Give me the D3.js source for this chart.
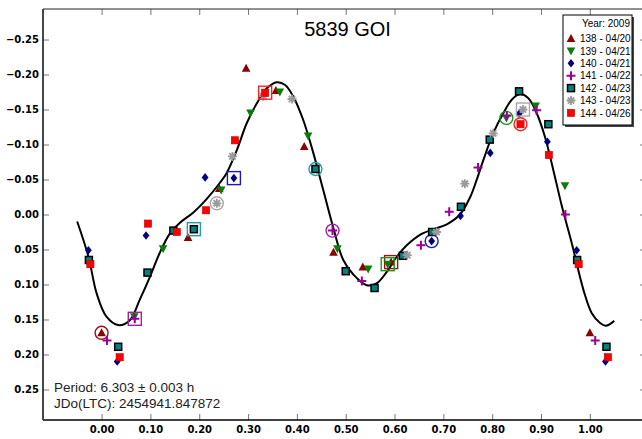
<!DOCTYPE html>
<html><head><meta charset="utf-8">
<script src="https://cdn.jsdelivr.net/npm/d3@7/dist/d3.min.js"></script>
<style>body{margin:0;background:#fff}svg{display:block}</style>
</head><body><div id="chart"></div>
<script>
// ---------- data ----------
const chartTitle = "5839 GOI";
const legendTitle = "Year: 2009";
const notes = ["Period: 6.303 \u00b1 0.003 h", "JDo(LTC): 2454941.847872"];
const xTicks = [0, 0.1, 0.2, 0.3, 0.4, 0.5, 0.6, 0.7, 0.8, 0.9, 1.0];
const yTicks = [-0.25, -0.2, -0.15, -0.1, -0.05, 0, 0.05, 0.1, 0.15, 0.2, 0.25];
const seriesNames = ["138 - 04/20", "139 - 04/21", "140 - 04/21", "141 - 04/22", "142 - 04/23", "143 - 04/23", "144 - 04/26"];

// [phase, magnitude]
const night138 = [[0.000,0.169],[0.177,0.033],[0.241,-0.037],[0.296,-0.209],[0.357,-0.177],[0.415,-0.097],[0.475,0.054],[0.535,0.075],[0.593,0.068]];
const night139 = [[0.067,0.146],[0.126,0.049],[0.245,-0.035],[0.305,-0.145],[0.365,-0.175],[0.423,-0.112],[0.483,0.049],[0.546,0.078],[0.586,0.071],[0.829,-0.138],[0.889,-0.155],[0.949,-0.041]];
const night140 = [[0.032,0.210],[0.091,0.030],[0.212,-0.053],[0.271,-0.052],[0.676,0.038],[0.735,0.002],[0.796,-0.088],[0.855,-0.144],[0.913,-0.104],[0.973,0.051]];
const night141 = [[0.011,0.180],[0.068,0.149],[0.473,0.023],[0.533,0.095],[0.654,0.044],[0.712,-0.004],[0.771,-0.067],[0.830,-0.141],[0.891,-0.149],[0.950,0.000]];
const night142 = [[0.034,0.189],[0.094,0.083],[0.147,0.023],[0.189,0.021],[0.438,-0.065],[0.500,0.081],[0.559,0.105],[0.617,0.059],[0.677,0.025],[0.736,-0.011],[0.795,-0.107],[0.855,-0.176],[0.915,-0.129],[0.974,0.065]];
const night143 = [[0.236,-0.016],[0.268,-0.083],[0.331,-0.169],[0.390,-0.165],[0.626,0.058],[0.686,0.025],[0.744,-0.044],[0.802,-0.116],[0.863,-0.150]];
const night144 = [[0.037,0.204],[0.095,0.013],[0.154,0.025],[0.214,-0.006],[0.273,-0.106],[0.335,-0.174],[0.858,-0.129],[0.916,-0.085],[0.977,0.071]];
// index of the circled and boxed point in each night
const circledIndex = [0, 9, 4, 2, 4, 0, 6];
const boxedIndex   = [8, 8, 3, 1, 3, 8, 5];

// Fourier fit curve [phase, magnitude]
const fitCurve = [[-0.050,0.010],[-0.027,0.060],[-0.010,0.113],[0.010,0.146],[0.034,0.158],[0.058,0.151],[0.078,0.122],[0.099,0.089],[0.119,0.055],[0.140,0.027],[0.160,0.012],[0.188,-0.003],[0.215,-0.022],[0.242,-0.045],[0.256,-0.059],[0.277,-0.092],[0.297,-0.130],[0.318,-0.159],[0.338,-0.180],[0.359,-0.189],[0.376,-0.185],[0.393,-0.168],[0.413,-0.135],[0.434,-0.087],[0.454,-0.035],[0.475,0.020],[0.495,0.065],[0.516,0.086],[0.543,0.101],[0.564,0.098],[0.584,0.082],[0.605,0.060],[0.625,0.044],[0.652,0.029],[0.680,0.021],[0.707,0.014],[0.734,0.000],[0.755,-0.025],[0.768,-0.049],[0.782,-0.078],[0.802,-0.116],[0.823,-0.145],[0.840,-0.164],[0.857,-0.172],[0.874,-0.166],[0.891,-0.145],[0.908,-0.111],[0.925,-0.064],[0.943,-0.011],[0.963,0.041],[0.987,0.108],[1.004,0.141],[1.021,0.155],[1.033,0.159],[1.050,0.152]];

const nights = [night138, night139, night140, night141, night142, night143, night144];

// ---------- styles ----------
const kinds  = ["triUp","triDown","diamond","plus","tealSq","star","redSq"];
const colors = ["#8b0000","#0a7d0a","#00007f","#990099","#008080","#9a9a9a","#ff0000"];
const ringColors = ["#a01010","#1a9a1a","#1a1ab0","#a020a0","#20a0a0","#a8a8a8","#ff2020"];
const W = 642, H = 439;
const plot = {left:43, right:646, top:9, bottom:420};

const svg = d3.select("#chart").append("svg").attr("width", W).attr("height", H)
  .style("font-family", "'Liberation Sans', Arial, sans-serif");

const x = d3.scaleLinear().domain([-0.12, 1.115]).range([plot.left, plot.right]);
const y = d3.scaleLinear().domain([-0.2936, 0.2936]).range([plot.top, plot.bottom]);

svg.append("defs").append("clipPath").attr("id","clip")
  .append("rect").attr("x",plot.left).attr("y",plot.top)
  .attr("width",plot.right-plot.left).attr("height",plot.bottom-plot.top);

// axes
const fmt = d3.format(".2f");
function styleAxis(g){
  g.select(".domain").remove();
  g.selectAll(".tick line").attr("stroke","#777").attr("stroke-width",1);
  g.selectAll(".tick text").attr("fill","#000")
   .style("font-family","'DejaVu Sans', Verdana, sans-serif")
   .style("font-weight","bold").style("font-size","10px");
}
svg.append("g").attr("transform",`translate(0,${plot.bottom})`)
  .call(d3.axisBottom(x).tickValues(xTicks).tickFormat(fmt).tickSizeInner(-6).tickSizeOuter(0).tickPadding(6))
  .call(styleAxis);
svg.append("g").attr("transform",`translate(${plot.left},0)`)
  .call(d3.axisLeft(y).tickValues(yTicks).tickFormat(fmt).tickSizeInner(-6).tickSizeOuter(0).tickPadding(4))
  .call(styleAxis);
svg.append("g").attr("transform",`translate(0,${plot.top})`)
  .call(d3.axisTop(x).tickValues(xTicks).tickFormat("").tickSizeInner(-6).tickSizeOuter(0))
  .call(styleAxis);
svg.append("g").attr("transform",`translate(${plot.right},0)`)
  .call(d3.axisRight(y).tickValues(yTicks).tickFormat("").tickSizeInner(-6).tickSizeOuter(0))
  .call(styleAxis);

// frame
svg.append("line").attr("x1",plot.left).attr("x2",plot.right).attr("y1",plot.top).attr("y2",plot.top)
  .attr("stroke","#222").attr("stroke-width",1);
svg.append("line").attr("x1",plot.left).attr("x2",plot.right).attr("y1",plot.bottom).attr("y2",plot.bottom)
  .attr("stroke","#000").attr("stroke-width",1.6);
svg.append("line").attr("x1",plot.left).attr("x2",plot.left).attr("y1",plot.top).attr("y2",plot.bottom)
  .attr("stroke","#333").attr("stroke-width",1.8);

// title
svg.append("text").attr("x", (x(-0.12)+x(1.115))/2 + 3).attr("y", 36)
  .attr("text-anchor","middle").style("font-size","20px").attr("fill","#000").text(chartTitle);

// fit curve
const line = d3.line().x(d=>x(d[0])).y(d=>y(d[1])).curve(d3.curveCatmullRom.alpha(0.5));
svg.append("path").datum(fitCurve).attr("d", line).attr("fill","none")
  .attr("stroke","#000").attr("stroke-width",2).attr("clip-path","url(#clip)");

// marker drawing
function drawMarker(g, kind, color){
  switch(kind){
    case "triUp": g.append("path").attr("d","M0,-4.5L4.3,3.5L-4.3,3.5Z").attr("fill",color); break;
    case "triDown": g.append("path").attr("d","M0,4.5L4.3,-3.5L-4.3,-3.5Z").attr("fill",color); break;
    case "diamond": g.append("path").attr("d","M0,-4.3L3.4,0L0,4.3L-3.4,0Z").attr("fill",color); break;
    case "plus":
      g.append("path").attr("d","M-4.5,0H4.5M0,-4.5V4.5").attr("stroke",color).attr("stroke-width",2).attr("fill","none"); break;
    case "tealSq":
      g.append("rect").attr("x",-3.5).attr("y",-3.5).attr("width",7).attr("height",7)
        .attr("fill",color).attr("stroke","#000").attr("stroke-width",1.5); break;
    case "star":
      g.append("path").attr("d","M-4.5,0H4.5M0,-4.5V4.5M-3.2,-3.2L3.2,3.2M-3.2,3.2L3.2,-3.2")
        .attr("stroke",color).attr("stroke-width",1.8).attr("fill","none"); break;
    case "redSq":
      g.append("rect").attr("x",-3.6).attr("y",-3.6).attr("width",7.2).attr("height",7.2)
        .attr("fill",color).attr("stroke","#c00000").attr("stroke-width",0.6); break;
  }
}

// points (with wrapped copies near phase 0 / 1)
const pts = svg.append("g");
nights.forEach((arr, si) => {
  arr.forEach((d, i) => {
    const phases = [d[0]];
    if (d[0] < 0.04) phases.push(d[0] + 1);
    if (d[0] > 0.96) phases.push(d[0] - 1);
    phases.forEach((ph, k) => {
      const g = pts.append("g").attr("transform",`translate(${x(ph)},${y(d[1])})`);
      drawMarker(g, kinds[si], colors[si]);
      if (k === 0 && i === circledIndex[si])
        g.append("circle").attr("r",6.5).attr("fill","none").attr("stroke",ringColors[si]).attr("stroke-width",1.4);
      if (k === 0 && i === boxedIndex[si])
        g.append("rect").attr("x",-6.5).attr("y",-6.5).attr("width",13).attr("height",13)
          .attr("fill","none").attr("stroke",ringColors[si]).attr("stroke-width",1.4);
    });
  });
});

// notes
notes.forEach((t,i)=>{
  svg.append("text").attr("x",54).attr("y",392 + i*16).style("font-size","13.5px")
    .attr("fill","#222").text(t);
});

// legend
const lg = svg.append("g");
const lx = 563, ly = 15, lw = 69, lh = 110;
lg.append("rect").attr("x",lx+2).attr("y",ly+2).attr("width",lw).attr("height",lh).attr("fill","#444");
lg.append("rect").attr("x",lx).attr("y",ly).attr("width",lw).attr("height",lh)
  .attr("fill","#fff").attr("stroke","#000").attr("stroke-width",1);
lg.append("text").attr("x",lx+lw-2).attr("y",ly+11.5).attr("text-anchor","end")
  .style("font-size","10px").attr("fill","#000").text(legendTitle);
seriesNames.forEach((name,i)=>{
  const cy = ly + 23.5 + i*12.4;
  const g = lg.append("g").attr("transform",`translate(${lx+8},${cy})`);
  drawMarker(g, kinds[i], colors[i]);
  lg.append("text").attr("x",lx+17).attr("y",cy+3.6).style("font-size","10px")
    .attr("fill","#000").text(name);
});
</script>
</body></html>
